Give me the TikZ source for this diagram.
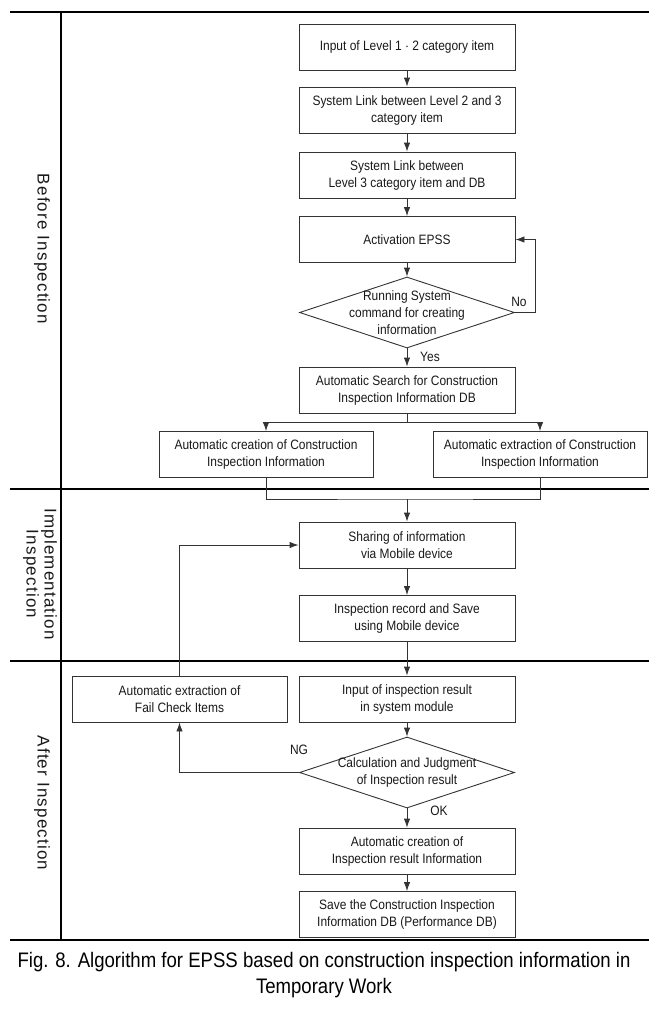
\documentclass[tikz,border=0pt]{standalone}
\usepackage{fontspec}
\usepackage{tikz}
\usetikzlibrary{calc, positioning, shapes, arrows.meta}
\newfontfamily\boxfont[FakeStretch=0.88]{Liberation Sans}
\newfontfamily\lanefont[LetterSpace=7]{Liberation Sans}
\newfontfamily\capfont[FakeStretch=0.885]{Liberation Sans}

\begin{document}
\begin{tikzpicture}[x=1pt, y=-1pt,
			font={\boxfont\fontsize{13.6}{17}\selectfont}, text=black!90,
			box/.style={draw=black!80, line width=0.9pt, minimum width=216pt, minimum height=46pt, align=center, inner sep=0pt},
			dec/.style={diamond, draw=black!80, line width=0.9pt, minimum width=215pt, minimum height=71pt, inner sep=0pt},
			arr/.style={draw=black!80, line width=0.9pt, -{Latex[length=9pt,width=6.5pt]}},
			lane/.style={line width=2.4pt, black},
			l_lab/.style={rotate=-90, align=center, font={\lanefont\fontsize{17}{18}\selectfont}}]
			\useasboundingbox (0,0) rectangle (668,1015);
			% lanes
			\draw[lane] (10,12) -- (649,12);
			\draw[lane] (10,489) -- (649,489);
			\draw[lane] (10,661) -- (649,661);
			\draw[lane] (10,940) -- (649,940);
			\draw[lane] (61,12) -- (61,940);
			\node[l_lab] (before) at (42,249) {Before Inspection};
			\node[l_lab] (impl) at (40,574) {Implementation\\Inspection};
			\node[l_lab] (after) at (42,803) {After Inspection};
			
			% before inspection
			\node[box] (b1) at (407,47) {Input of Level 1 $\cdot$ 2 category item};
			\node[box] (b2) at (407,110) {System Link between Level 2 and 3\\category item};
			\node[box] (b3) at (407,175) {System Link between\\Level 3 category item and DB};
			\node[box] (b4) at (407,239.5) {Activation EPSS};
			\node[dec] (d1) at (407,312.5) {};
			\node (d1t) at (d1) [align=center] {Running System\\command for creating\\information};
			\node[box] (b5) at (407,390) {Automatic Search for Construction\\Inspection Information DB};
			\node[box, minimum width=214pt] (b6L) at (266,454.5) {Automatic creation of Construction\\Inspection Information};
			\node[box, minimum width=214pt] (b6R) at (540,454.5) {Automatic extraction of Construction\\Inspection Information};
			
			\draw[arr] (b1) -- (b2);
			\draw[arr] (b2) -- (b3);
			\draw[arr] (b3) -- (b4);
			\draw[arr] (b4) -- (d1);
			\draw[arr] (d1.east) -- ++(20,0) |- (b4.east);
			\draw[arr] (d1) -- (b5);
			\draw[arr] (b5.south) -- ++(0,9) -| (b6L.north);
			\draw[arr] (b5.south) -- ++(0,9) -| (b6R.north);
			\node (no) at (519,302) {No};
			\node (yes) at (430,357) {Yes};
			
			% implementation inspection
			\coordinate (mrg) at (407,499);
			\node[box] (b7) at (407,545) {Sharing of information\\via Mobile device};
			\node[box] (b8) at (407,618.5) {Inspection record and Save\\using Mobile device};
			\draw[draw=black!80, line width=0.9pt] (b6L.south) |- (mrg) -| (b6R.south);
			\draw[arr] (mrg) -- (b7);
			\draw[arr] (b7) -- (b8);
			
			% after inspection
			\node[box] (b9) at (407,699) {Input of inspection result\\in system module};
			\node[box, minimum width=215pt] (b9L) at (179.5,699) {Automatic extraction of\\Fail Check Items};
			\node[dec] (d2) at (407,772.5) {};
			\node (d2t) at (d2) [align=center] {Calculation and Judgment\\of Inspection result};
			\node[box] (b10) at (407,851) {Automatic creation of\\Inspection result Information};
			\node[box] (b11) at (407,914.5) {Save the Construction Inspection\\Information DB (Performance DB)};
			\draw[arr] (b8) -- (b9);
			\draw[arr] (b9) -- (d2);
			\draw[arr] (d2) -- (b10);
			\draw[arr] (b10) -- (b11);
			\draw[arr] (d2.west) -| (b9L.south);
			\draw[arr] (b9L.north) |- (b7.west);
			\node (ng) at (299,750) {NG};
			\node (ok) at (439,811) {OK};
			
			\node[align=center, font={\capfont\fontsize{21}{26}\selectfont}, text=black] (cap) at (324,975) {Fig. 8. Algorithm for EPSS based on construction inspection information in\\Temporary Work};
		\end{tikzpicture}
\end{document}
